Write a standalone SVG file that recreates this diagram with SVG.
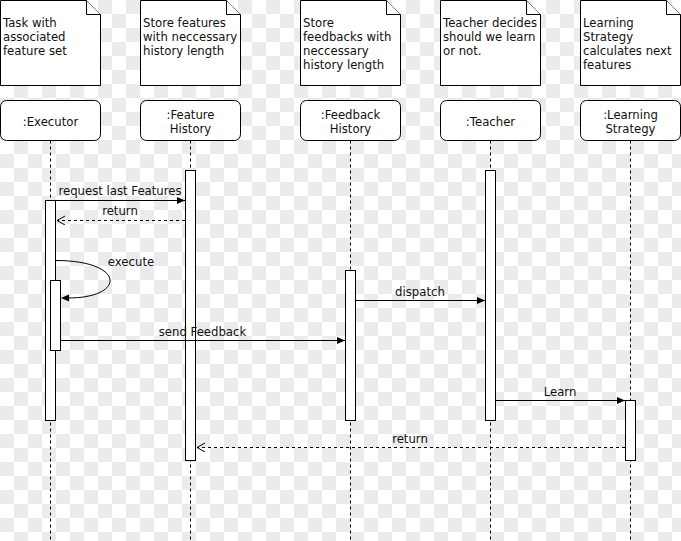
<svg xmlns="http://www.w3.org/2000/svg" width="681" height="541" viewBox="0 0 681 541">
<defs>
<pattern id="chk" patternUnits="userSpaceOnUse" x="0" y="0" width="28" height="28">
<rect x="0" y="0" width="28" height="28" fill="#ffffff"/>
<rect x="14" y="0" width="14" height="14" fill="#ebebeb"/>
<rect x="0" y="14" width="14" height="14" fill="#ebebeb"/>
</pattern>
<marker id="fill" markerUnits="userSpaceOnUse" markerWidth="10" markerHeight="10" refX="8" refY="3.5" orient="auto">
<path d="M0,0 L8,3.5 L0,7 Z" fill="#000"/>
</marker>
<marker id="open" markerUnits="userSpaceOnUse" markerWidth="12" markerHeight="12" refX="8" refY="4.5" orient="auto">
<path d="M0,0 L8,4.5 L0,9" fill="none" stroke="#000" stroke-width="1"/>
</marker>
</defs>
<style>
.note{fill:#fff;stroke:#000;stroke-width:1}
.box{fill:#fff;stroke:#000;stroke-width:1}
.life{stroke:#000;stroke-width:1;stroke-dasharray:3,3;fill:none}
.act{fill:#fff;stroke:#000;stroke-width:1}
.msg{stroke:#000;stroke-width:1;fill:none}
.ret{stroke:#000;stroke-width:1;fill:none;stroke-dasharray:3,3}
text{font-family:"DejaVu Sans","Liberation Sans",sans-serif;font-size:11.7px;fill:#111}
.c{text-anchor:middle}
</style>
<rect id="background" x="0" y="0" width="681" height="541" fill="url(#chk)"/>

<g id="note-executor">
<path class="note" d="M0.5,0.5 H86.5 L100.5,14.5 V85.5 H0.5 Z"/>
<path class="note" d="M86.5,0.5 V14.5 H100.5"/>
<text x="3" y="27">Task with</text>
<text x="3" y="41">associated</text>
<text x="3" y="55">feature set</text>
</g>
<g id="note-feature">
<path class="note" d="M140.5,0.5 H226.5 L240.5,14.5 V85.5 H140.5 Z"/>
<path class="note" d="M226.5,0.5 V14.5 H240.5"/>
<text x="143" y="27">Store features</text>
<text x="143" y="41">with neccessary</text>
<text x="143" y="55">history length</text>
</g>
<g id="note-feedback">
<path class="note" d="M300.5,0.5 H386.5 L400.5,14.5 V85.5 H300.5 Z"/>
<path class="note" d="M386.5,0.5 V14.5 H400.5"/>
<text x="303" y="27">Store</text>
<text x="303" y="41">feedbacks with</text>
<text x="303" y="55">neccessary</text>
<text x="303" y="69">history length</text>
</g>
<g id="note-teacher">
<path class="note" d="M440.5,0.5 H526.5 L540.5,14.5 V85.5 H440.5 Z"/>
<path class="note" d="M526.5,0.5 V14.5 H540.5"/>
<text x="443" y="27">Teacher decides</text>
<text x="443" y="41">should we learn</text>
<text x="443" y="55">or not.</text>
</g>
<g id="note-strategy">
<path class="note" d="M580.5,0.5 H666.5 L680.5,14.5 V85.5 H580.5 Z"/>
<path class="note" d="M666.5,0.5 V14.5 H680.5"/>
<text x="583" y="27">Learning</text>
<text x="583" y="41">Strategy</text>
<text x="583" y="55">calculates next</text>
<text x="583" y="69">features</text>
</g>

<g id="executor">
<line class="life" x1="50.5" y1="140.5" x2="50.5" y2="541"/>
<rect class="box" x="0.5" y="100.5" width="100" height="40" rx="6" ry="6"/>
<text class="c" x="50.5" y="126">:Executor</text>
<rect class="act" x="45.5" y="200.5" width="10" height="220"/>
<rect class="act" x="50.5" y="280.5" width="10" height="70"/>
</g>
<g id="feature-history">
<line class="life" x1="190.5" y1="140.5" x2="190.5" y2="541"/>
<rect class="box" x="140.5" y="100.5" width="100" height="40" rx="6" ry="6"/>
<text class="c" x="190.5" y="119">:Feature</text>
<text class="c" x="190.5" y="133">History</text>
<rect class="act" x="185.5" y="170.5" width="10" height="290"/>
</g>
<g id="feedback-history">
<line class="life" x1="350.5" y1="140.5" x2="350.5" y2="541"/>
<rect class="box" x="300.5" y="100.5" width="100" height="40" rx="6" ry="6"/>
<text class="c" x="350.5" y="119">:Feedback</text>
<text class="c" x="350.5" y="133">History</text>
<rect class="act" x="345.5" y="270.5" width="10" height="150"/>
</g>
<g id="teacher">
<line class="life" x1="490.5" y1="140.5" x2="490.5" y2="541"/>
<rect class="box" x="440.5" y="100.5" width="100" height="40" rx="6" ry="6"/>
<text class="c" x="490.5" y="126">:Teacher</text>
<rect class="act" x="485.5" y="170.5" width="10" height="250"/>
</g>
<g id="learning-strategy">
<line class="life" x1="630.5" y1="140.5" x2="630.5" y2="541"/>
<rect class="box" x="580.5" y="100.5" width="100" height="40" rx="6" ry="6"/>
<text class="c" x="630.5" y="119">:Learning</text>
<text class="c" x="630.5" y="133">Strategy</text>
<rect class="act" x="625.5" y="400.5" width="10" height="60"/>
</g>

<g id="connectors">
<line class="msg" x1="56" y1="200.5" x2="185" y2="200.5" marker-end="url(#fill)"/>
<text class="c" x="120" y="195">request last Features</text>
<line class="ret" x1="185" y1="220.5" x2="57" y2="220.5" marker-end="url(#open)"/>
<text class="c" x="120" y="215">return</text>
<path class="msg" d="M55.5,260.5 C126,260.5 126,298 68,298"/>
<path d="M61,298 L69,294.5 L69,301.5 Z" fill="#000"/>
<text class="c" x="131" y="266">execute</text>
<line class="msg" x1="61" y1="340.5" x2="345" y2="340.5" marker-end="url(#fill)"/>
<text class="c" x="202.5" y="336">send Feedback</text>
<line class="msg" x1="356" y1="300.5" x2="485" y2="300.5" marker-end="url(#fill)"/>
<text class="c" x="420" y="296">dispatch</text>
<line class="msg" x1="496" y1="400.5" x2="625" y2="400.5" marker-end="url(#fill)"/>
<text class="c" x="560" y="396">Learn</text>
<line class="ret" x1="625" y1="447.5" x2="197" y2="447.5" marker-end="url(#open)"/>
<text class="c" x="410" y="443">return</text>
</g>
</svg>
